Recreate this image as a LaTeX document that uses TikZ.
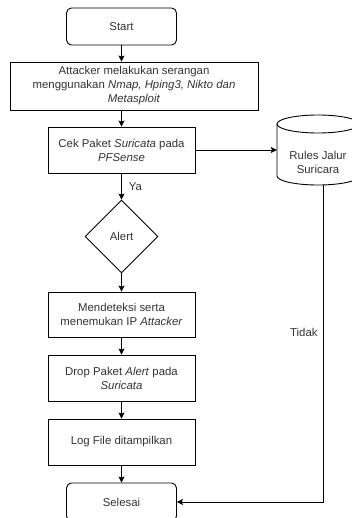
\documentclass[tikz,border=0pt]{standalone}
\usepackage{fontspec}
\setmainfont{Liberation Sans}
\usetikzlibrary{shapes.geometric,arrows.meta,calc}
\definecolor{txt}{RGB}{51,51,51}
\begin{document}
\begin{tikzpicture}[x=1pt,y=-1pt,
  every node/.style={font=\fontsize{11.4}{14}\selectfont, text=txt, align=center},
  box/.style={draw, line width=0.9pt, rectangle, inner sep=0pt},
  rbox/.style={box, rounded corners=5pt},
  dia/.style={draw, line width=0.9pt, diamond, inner sep=0pt, minimum width=73pt, minimum height=73pt},
  arr/.style={line width=0.9pt, -{Stealth[length=6pt,width=6pt,inset=1.2pt]}},
  lab/.style={inner sep=2pt}
]
\useasboundingbox (0,0) rectangle (351,518);
\node[rbox, minimum width=110pt, minimum height=37pt] (start) at (121.5,26.5) {Start};
\node[box, minimum width=248pt, minimum height=48pt] (att) at (134,86) {Attacker melakukan serangan\\menggunakan \textit{Nmap, Hping3, Nikto dan}\\\textit{Metasploit}};
\node[box, minimum width=147pt, minimum height=46pt] (cek) at (121.5,150) {Cek Paket \textit{Suricata} pada\\\textit{PFSense}};
\node[dia] (alert) at (121.5,236.5) {Alert};
\node[box, minimum width=147pt, minimum height=45pt] (det) at (121.5,314.5) {Mendeteksi serta\\menemukan IP \textit{Attacker}};
\node[box, minimum width=147pt, minimum height=46pt] (drop) at (121.5,378) {Drop Paket \textit{Alert} pada\\\textit{Suricata}};
\node[box, minimum width=147pt, minimum height=46pt] (log) at (121.5,442) {Log File ditampilkan};
\node[rbox, minimum width=110pt, minimum height=38pt] (sel) at (121.5,502) {Selesai};
% cylinder
\node[minimum width=82pt, minimum height=70pt, inner sep=0pt] (cyl) at (318,150) {};
\draw[line width=0.9pt, fill=white] (277,124) -- (277,176) arc[start angle=180, end angle=360, x radius=41pt, y radius=9pt] -- (359,124);
\draw[line width=0.9pt] (318,124) ellipse[x radius=41pt, y radius=9pt];
\node (cyltext) at (318,162) {Rules Jalur\\Suricara};
\coordinate (cylB) at ($(cyl.south)+(5,0)$);
% connectors
\draw[arr] (start.south) -- (start.south |- att.north);
\draw[arr] (start.south |- att.south) -- (cek.north);
\draw[arr] (cek.south) -- node[right, lab, xshift=5pt] {Ya} (alert.north);
\draw[arr] (alert.south) -- (det.north);
\draw[arr] (det.south) -- (drop.north);
\draw[arr] (drop.south) -- (log.north);
\draw[arr] (log.south) -- (sel.north);
\draw[arr] (cek.east) -- (cyl.west);
\draw[arr] (cylB) -- node[pos=0.464, left, lab, xshift=-3pt] {Tidak} (cylB |- sel.east) -- (sel.east);
\end{tikzpicture}
\end{document}
